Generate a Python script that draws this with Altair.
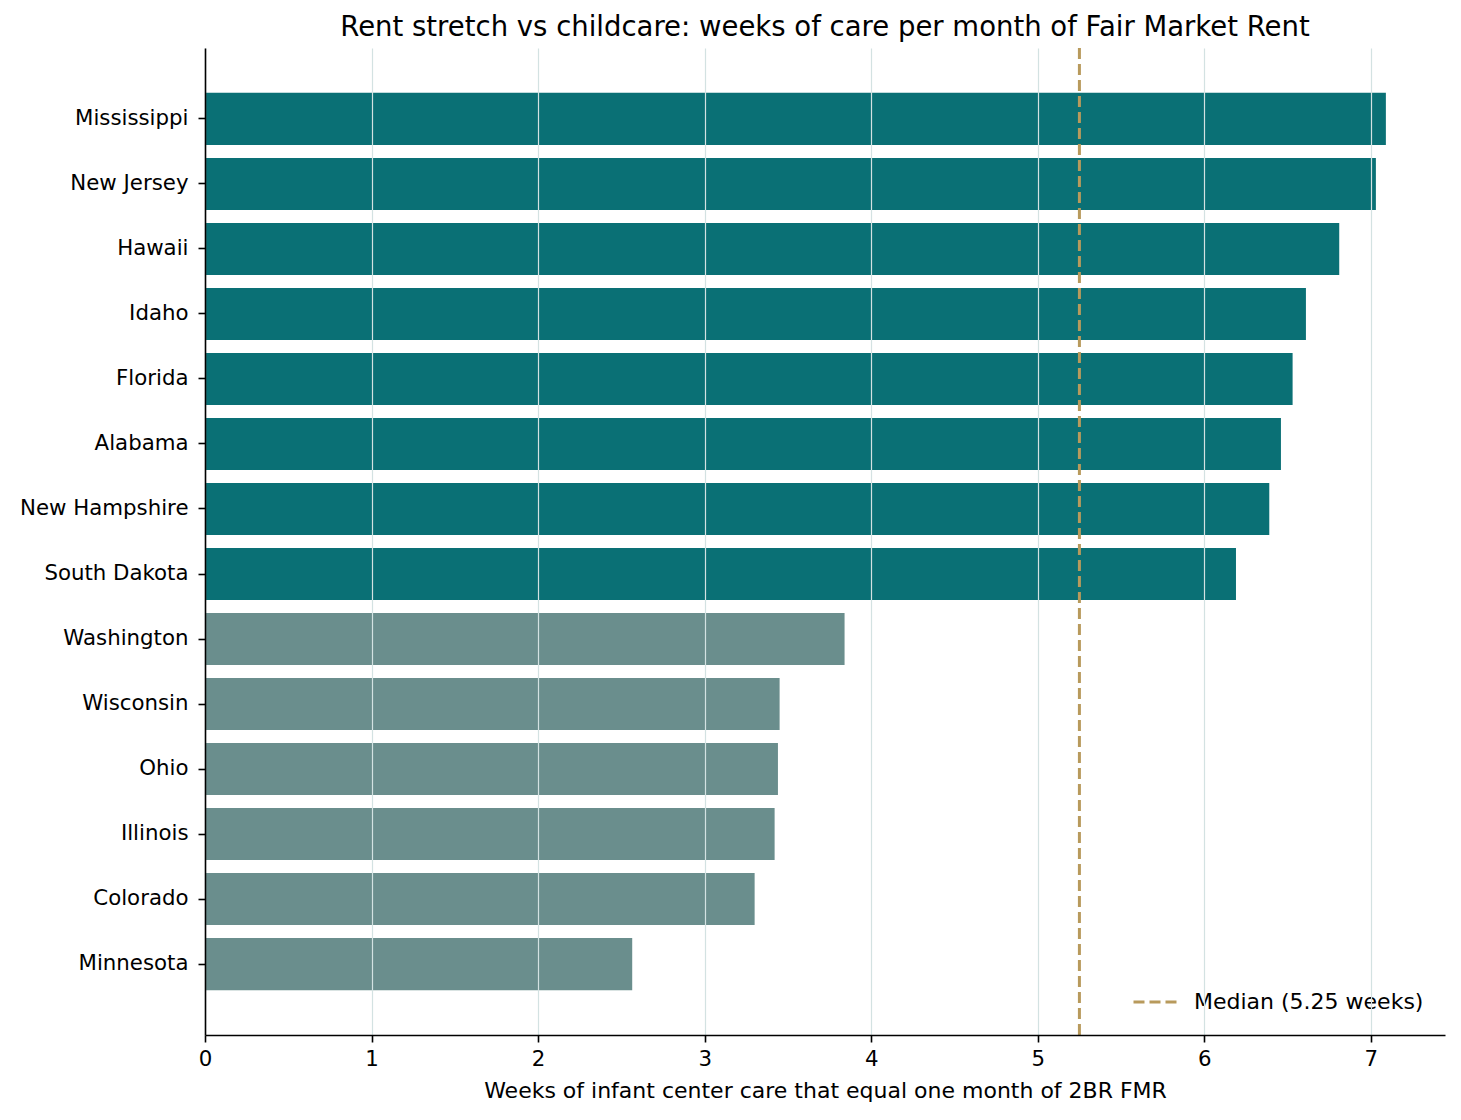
import altair as alt
import pandas as pd

states = ["Mississippi", "New Jersey", "Hawaii", "Idaho", "Florida", "Alabama",
          "New Hampshire", "South Dakota", "Washington", "Wisconsin", "Ohio",
          "Illinois", "Colorado", "Minnesota"]
weeks = [7.09, 7.03, 6.81, 6.61, 6.53, 6.46, 6.39, 6.19, 3.84, 3.45, 3.44,
         3.42, 3.30, 2.565]
median_weeks = 5.25
median_label = "Median (5.25 weeks)"
x_ticks = [0, 1, 2, 3, 4, 5, 6, 7]

DARK = "#0a7075"
MUTED = "#6a8e8d"
TAN = "#b89a5c"
FONT = "DejaVu Sans"

df = pd.DataFrame({"state": states, "weeks": weeks})
df["group"] = ["above" if w > median_weeks else "below" for w in weeks]
med = pd.DataFrame({"weeks": [median_weeks], "label": [median_label]})

x_scale = alt.Scale(domain=[0, 7.445], nice=False, zero=True)

bars = alt.Chart(df).mark_bar().encode(
    y=alt.Y("state:N", sort=states,
            scale=alt.Scale(paddingInner=0.2, paddingOuter=0.69),
            axis=alt.Axis(title=None, labelFontSize=21.3, labelFont=FONT,
                          labelColor="black", tickSize=7, tickWidth=1.6,
                          tickColor="black", domainColor="black",
                          domainWidth=1.6, labelPadding=10, grid=False,
                          labelLimit=400, zindex=1)),
    x=alt.X("weeks:Q", scale=x_scale,
            axis=alt.Axis(values=x_ticks, title="Weeks of infant center care that equal one month of 2BR FMR",
                          titleFontSize=22, titleFont=FONT, titleFontWeight="normal",
                          titleColor="black", titlePadding=11,
                          labelFontSize=21.3, labelFont=FONT, labelColor="black",
                          labelPadding=6, labelFlush=False, tickSize=7, tickWidth=1.6,
                          tickColor="black", domainColor="black",
                          domainWidth=1.6, grid=True, gridColor="#d3e2e2",
                          gridWidth=1.2, zindex=1, format="d")),
    color=alt.Color("group:N",
                    scale=alt.Scale(domain=["above", "below"], range=[DARK, MUTED]),
                    legend=None),
)

rule = alt.Chart(med).mark_rule(strokeDash=[11, 5], strokeWidth=3).encode(
    x=alt.X("weeks:Q", scale=x_scale),
    color=alt.Color("label:N", scale=alt.Scale(domain=[median_label], range=[TAN]),
                    legend=alt.Legend(title=None, orient="none", legendX=927,
                                      legendY=930, padding=0,
                                      symbolType="stroke", symbolSize=2025,
                                      symbolStrokeWidth=3, symbolDash=[11, 5],
                                      labelFontSize=22, labelFont=FONT,
                                      labelColor="black", labelOffset=14,
                                      labelLimit=400)),
)

chart = alt.layer(bars, rule).resolve_scale(color="independent").properties(
    width=1240,
    height=987,
    title=alt.Title("Rent stretch vs childcare: weeks of care per month of Fair Market Rent",
                    fontSize=27.5, font=FONT, fontWeight="normal", color="black",
                    anchor="middle", offset=5),
    autosize=alt.AutoSizeParams(type="none"),
    padding={"left": 197, "top": 40, "right": 8, "bottom": 70},
).configure_view(stroke=None)

chart.save("out.html", embed_options={"renderer": "svg", "actions": False})
